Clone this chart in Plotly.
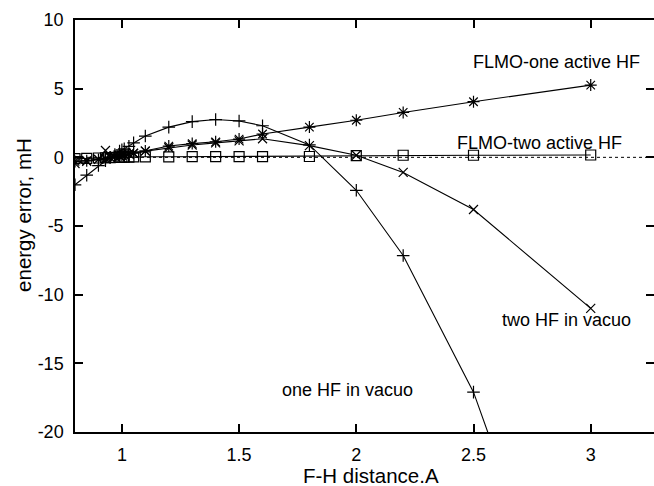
import plotly.graph_objects as go

# shared distance grid (Angstrom)
dist = [0.8, 0.85, 0.9, 0.93, 0.95, 0.97, 0.99, 1.0, 1.01, 1.03, 1.05, 1.1,
        1.2, 1.3, 1.4, 1.5, 1.6, 1.8, 2.0, 2.2, 2.5, 3.0]

one_hf_vacuo = [-2.0, -1.3, -0.6, -0.25, 0.0, 0.2, 0.45, 0.55, 0.62, 0.8, 1.05, 1.55,
                2.2, 2.6, 2.75, 2.65, 2.3, 0.9, -2.4, -7.15, -17.1, -41.0]
two_hf_vacuo = [-0.45, -0.3, -0.15, 0.5, 0.0, 0.05, 0.1, 0.15, 0.2, 0.25, 0.3, 0.45,
                0.7, 0.9, 1.05, 1.2, 1.35, 0.85, 0.15, -1.1, -3.8, -11.0]
flmo_one = [-0.3, -0.25, -0.15, -0.1, 0.0, 0.05, 0.1, 0.15, 0.2, 0.25, 0.3, 0.47,
            0.82, 1.0, 1.13, 1.33, 1.7, 2.2, 2.7, 3.27, 4.05, 5.26]
flmo_two = [-0.1, -0.08, -0.05, -0.03, -0.02, 0.0, 0.0, 0.01, 0.02, 0.02, 0.03, 0.04,
            0.04, 0.05, 0.05, 0.05, 0.05, 0.06, 0.12, 0.15, 0.15, 0.17]

x_ticks = [1, 1.5, 2, 2.5, 3]
y_ticks = [-20, -15, -10, -5, 0, 5, 10]

labels = [
    ("FLMO-one active HF", 2.853, 6.94),
    ("FLMO-two active HF", 2.78, 1.03),
    ("two HF in vacuo", 2.898, -11.87),
    ("one HF in vacuo", 1.961, -16.97),
]

FONT = "Liberation Sans, Arial, Helvetica, sans-serif"
fig = go.Figure()

def add(y, sym, size):
    fig.add_trace(go.Scatter(
        x=dist, y=y, mode="lines+markers",
        line=dict(color="black", width=1.1),
        marker=dict(symbol=sym, size=size, color="black",
                    line=dict(color="black", width=1.2)),
        showlegend=False))

add(flmo_two, "square-open", 10)
add(flmo_one, "asterisk-open", 10)
add(two_hf_vacuo, "x-thin-open", 9)
add(one_hf_vacuo, "cross-thin-open", 9)

fig.add_shape(type="line", xref="paper", x0=0, x1=1, yref="y", y0=0, y1=0,
              line=dict(color="black", width=1, dash="dot"), layer="below")

for txt, xx, yy in labels:
    fig.add_annotation(x=xx, y=yy, text=txt, showarrow=False,
                       font=dict(family=FONT, size=18, color="black"))

# axis titles
fig.add_annotation(xref="paper", yref="paper", x=0.511, y=-0.105, yanchor="middle",
                   text="F-H distance.A", showarrow=False,
                   font=dict(family=FONT, size=20.5, color="black"))
fig.add_annotation(xref="paper", yref="paper", x=-0.088, y=0.527, xanchor="center",
                   text="energy error, mH", showarrow=False, textangle=-90,
                   font=dict(family=FONT, size=20.5, color="black"))

fig.update_layout(
    width=654, height=486,
    margin=dict(l=75, r=0, t=20, b=54),
    paper_bgcolor="white", plot_bgcolor="white",
    font=dict(family=FONT, size=18, color="black"),
    xaxis=dict(range=[0.8, 3.27], tickvals=x_ticks, ticktext=[str(t) for t in x_ticks],
               ticks="inside", ticklen=8, tickwidth=1.5, tickcolor="black",
               showline=True, linecolor="black", linewidth=1.5, mirror="ticks",
               showgrid=False, zeroline=False, ticklabelstandoff=6,
               automargin=False),
    yaxis=dict(range=[-20, 10], tickvals=y_ticks, ticktext=[str(t) for t in y_ticks],
               ticks="inside", ticklen=8, tickwidth=1.5, tickcolor="black",
               showline=True, linecolor="black", linewidth=1.5, mirror="ticks",
               showgrid=False, zeroline=False, ticklabelstandoff=6,
               automargin=False),
)

fig.write_html("out.html", config={"displayModeBar": False},
               post_script="document.body.style.margin='0';document.body.style.overflow='hidden';")
